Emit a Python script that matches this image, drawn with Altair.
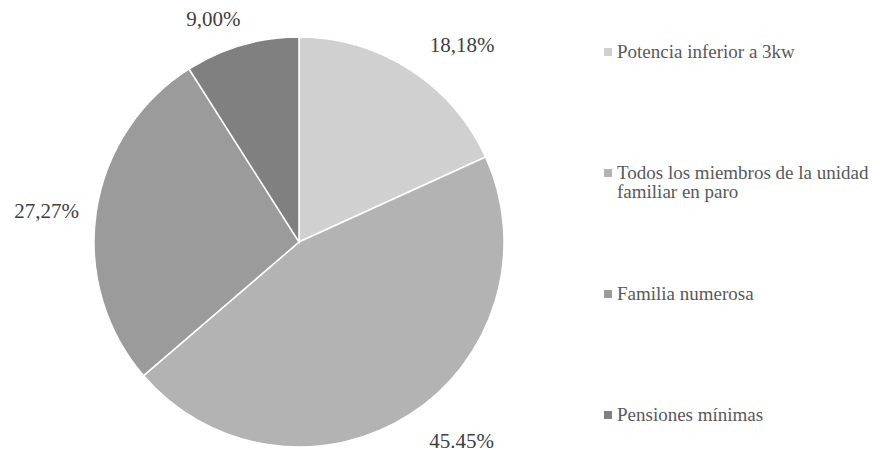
import altair as alt
import pandas as pd

categories = ["Potencia inferior a 3kw", "Todos los miembros de la unidad familiar en paro",
              "Familia numerosa", "Pensiones mínimas"]
values = [18.18, 45.45, 27.27, 9.00]
labels = ["18,18%", "45.45%", "27,27%", "9,00%"]
colors = ["#d0d0d0", "#b3b3b3", "#9b9b9b", "#808080"]

df = pd.DataFrame({"cat": categories, "val": values, "lab": labels, "ord": list(range(len(categories)))})

SERIF = "'Liberation Serif', 'Times New Roman', Times, serif"

cscale = alt.Scale(domain=categories, range=colors)

base = alt.Chart(df).encode(
    theta=alt.Theta("val:Q", stack=True),
    order=alt.Order("ord:Q"),
)

arcs = base.mark_arc(radius=205, stroke="white", strokeWidth=1.5).encode(
    color=alt.Color("cat:N", scale=cscale, legend=None),
    x=alt.value(291), y=alt.value(234),
)

txt_style = dict(radius=235, font=SERIF, fontSize=21, color="#404040")

texts_right = base.mark_text(dx=36, dy=2, **txt_style).encode(
    text=alt.condition("datum.ord < 2", "lab:N", alt.value("")),
    x=alt.value(291), y=alt.value(234),
)
texts_left = base.mark_text(dx=-20, dy=4, **txt_style).encode(
    text=alt.condition("datum.ord >= 2", "lab:N", alt.value("")),
    x=alt.value(291), y=alt.value(234),
)

# legend built from the same category list
ypos = alt.Y("cat:N", scale=alt.Scale(type="point", domain=categories, range=[44, 407], padding=0), axis=None)

leg_sym = alt.Chart(df).mark_square(size=64, opacity=1).encode(
    y=ypos, x=alt.value(600),
    color=alt.Color("cat:N", scale=cscale, legend=None),
)
leg_txt = alt.Chart(df).transform_calculate(
    disp="replace(datum.cat, 'unidad ', 'unidad\\n')"
).mark_text(
    align="left", baseline="alphabetic", dy=6, lineBreak="\n", lineHeight=19,
    font=SERIF, fontSize=19, color="#595959",
).encode(
    y=ypos, x=alt.value(609), text="disp:N",
)

chart = alt.layer(arcs, texts_right, texts_left, leg_sym, leg_txt).properties(
    width=864, height=442, padding=0, autosize="none"
).configure(font=SERIF).configure_view(stroke=None)

chart.save("out.html", embed_options={"renderer": "svg", "actions": False})
